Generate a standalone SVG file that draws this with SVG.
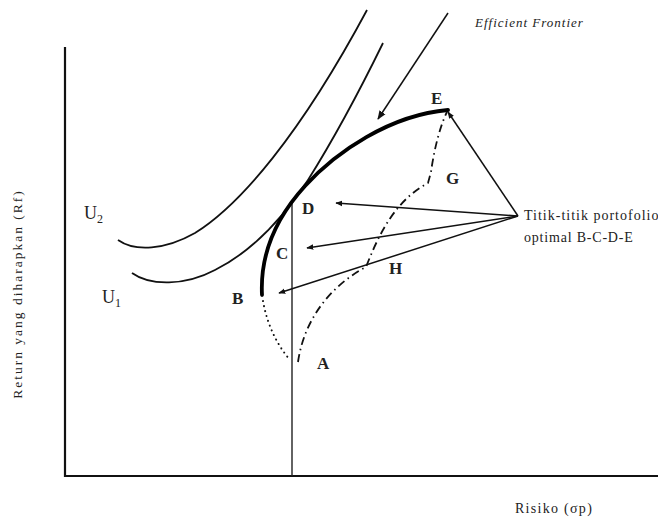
<svg xmlns="http://www.w3.org/2000/svg" width="658" height="522" viewBox="0 0 658 522">
<defs>
<marker id="ah" viewBox="0 0 10 10" refX="9" refY="5" markerWidth="7" markerHeight="7" orient="auto" markerUnits="userSpaceOnUse">
<path d="M0,1 L10,5 L0,9 Z" fill="#111"/>
</marker>
<marker id="ahb" viewBox="0 0 10 10" refX="9" refY="5" markerWidth="9" markerHeight="9" orient="auto" markerUnits="userSpaceOnUse">
<path d="M0,1 L10,5 L0,9 Z" fill="#111"/>
</marker>
</defs>
<style>
.ax{stroke:#111;stroke-width:2.2;fill:none}
.thin{stroke:#222;stroke-width:1.4;fill:none}
.u{stroke:#111;stroke-width:1.8;fill:none}
.thick{stroke:#000;stroke-width:3.8;fill:none;stroke-linecap:round}
.dot{stroke:#111;stroke-width:2;fill:none;stroke-dasharray:0.1 5;stroke-linecap:round}
.dd{stroke:#111;stroke-width:1.8;fill:none;stroke-dasharray:8 4 1.5 4}
.arr{stroke:#111;stroke-width:1.5;fill:none}
text{font-family:"Liberation Serif","Times New Roman",serif;fill:#222}
.lbl{font-size:17px;font-weight:bold}
.sm{font-size:14px}
</style>
<rect width="658" height="522" fill="#fff"/>
<g id="axes">
<path class="ax" d="M65,47 L65,476 L658,476"/>
<path class="thin" d="M292,202 L292,476"/>
</g>
<g id="curves">
<path id="U2" class="u" d="M118,240 C135,252 165,250 195,233 C240,205 300,135 367,10"/>
<path id="U1" class="u" d="M132,273 C150,286 185,286 215,270 C255,250 285,215 308,180 C330,145 360,90 383,43"/>
<path id="frontier" class="thick" d="M262,295 C260,255 274,220 305,186 C336,152 390,115 448,110"/>
<path id="AB" class="dot" d="M263,301 Q269,335 290,360"/>
<path id="AHGE" class="dd" d="M298,362 C304,320 330,286 366,267 C376,242 392,202 428,183 L431,172 C434,150 440,126 447,112"/>
</g>
<g id="connectors">
<path class="arr" d="M448,13 L378,119" marker-end="url(#ahb)"/>
<path class="arr" d="M518,216 L448,112" marker-end="url(#ah)"/>
<path class="arr" d="M518,216 L336,203" marker-end="url(#ah)"/>
<path class="arr" d="M518,216 L307,248" marker-end="url(#ah)"/>
<path class="arr" d="M518,216 L279,293" marker-end="url(#ah)"/>
</g>
<g id="labels">
<text class="lbl" x="431" y="104">E</text>
<text class="lbl" x="302" y="214">D</text>
<text class="lbl" x="276" y="259">C</text>
<text class="lbl" x="232" y="304">B</text>
<text class="lbl" x="317" y="369">A</text>
<text class="lbl" x="446" y="184">G</text>
<text class="lbl" x="389" y="274">H</text>
<text x="84" y="219" style="font-size:18px">U<tspan dy="4" style="font-size:12px">2</tspan></text>
<text x="102" y="303" style="font-size:18px">U<tspan dy="4" style="font-size:12px">1</tspan></text>
<text x="475" y="27" style="font-size:13px;font-style:italic;letter-spacing:1px">Efficient Frontier</text>
<text class="sm" x="524" y="220" style="letter-spacing:1px">Titik-titik portofolio</text>
<text class="sm" x="524" y="242" style="letter-spacing:0.8px">optimal B-C-D-E</text>
<text class="sm" x="554" y="513" text-anchor="middle" style="letter-spacing:1.3px">Risiko (σp)</text>
<text class="sm" transform="translate(22,294) rotate(-90)" text-anchor="middle" style="font-size:13.5px;letter-spacing:2px">Return yang diharapkan (Rf)</text>
</g>
</svg>
